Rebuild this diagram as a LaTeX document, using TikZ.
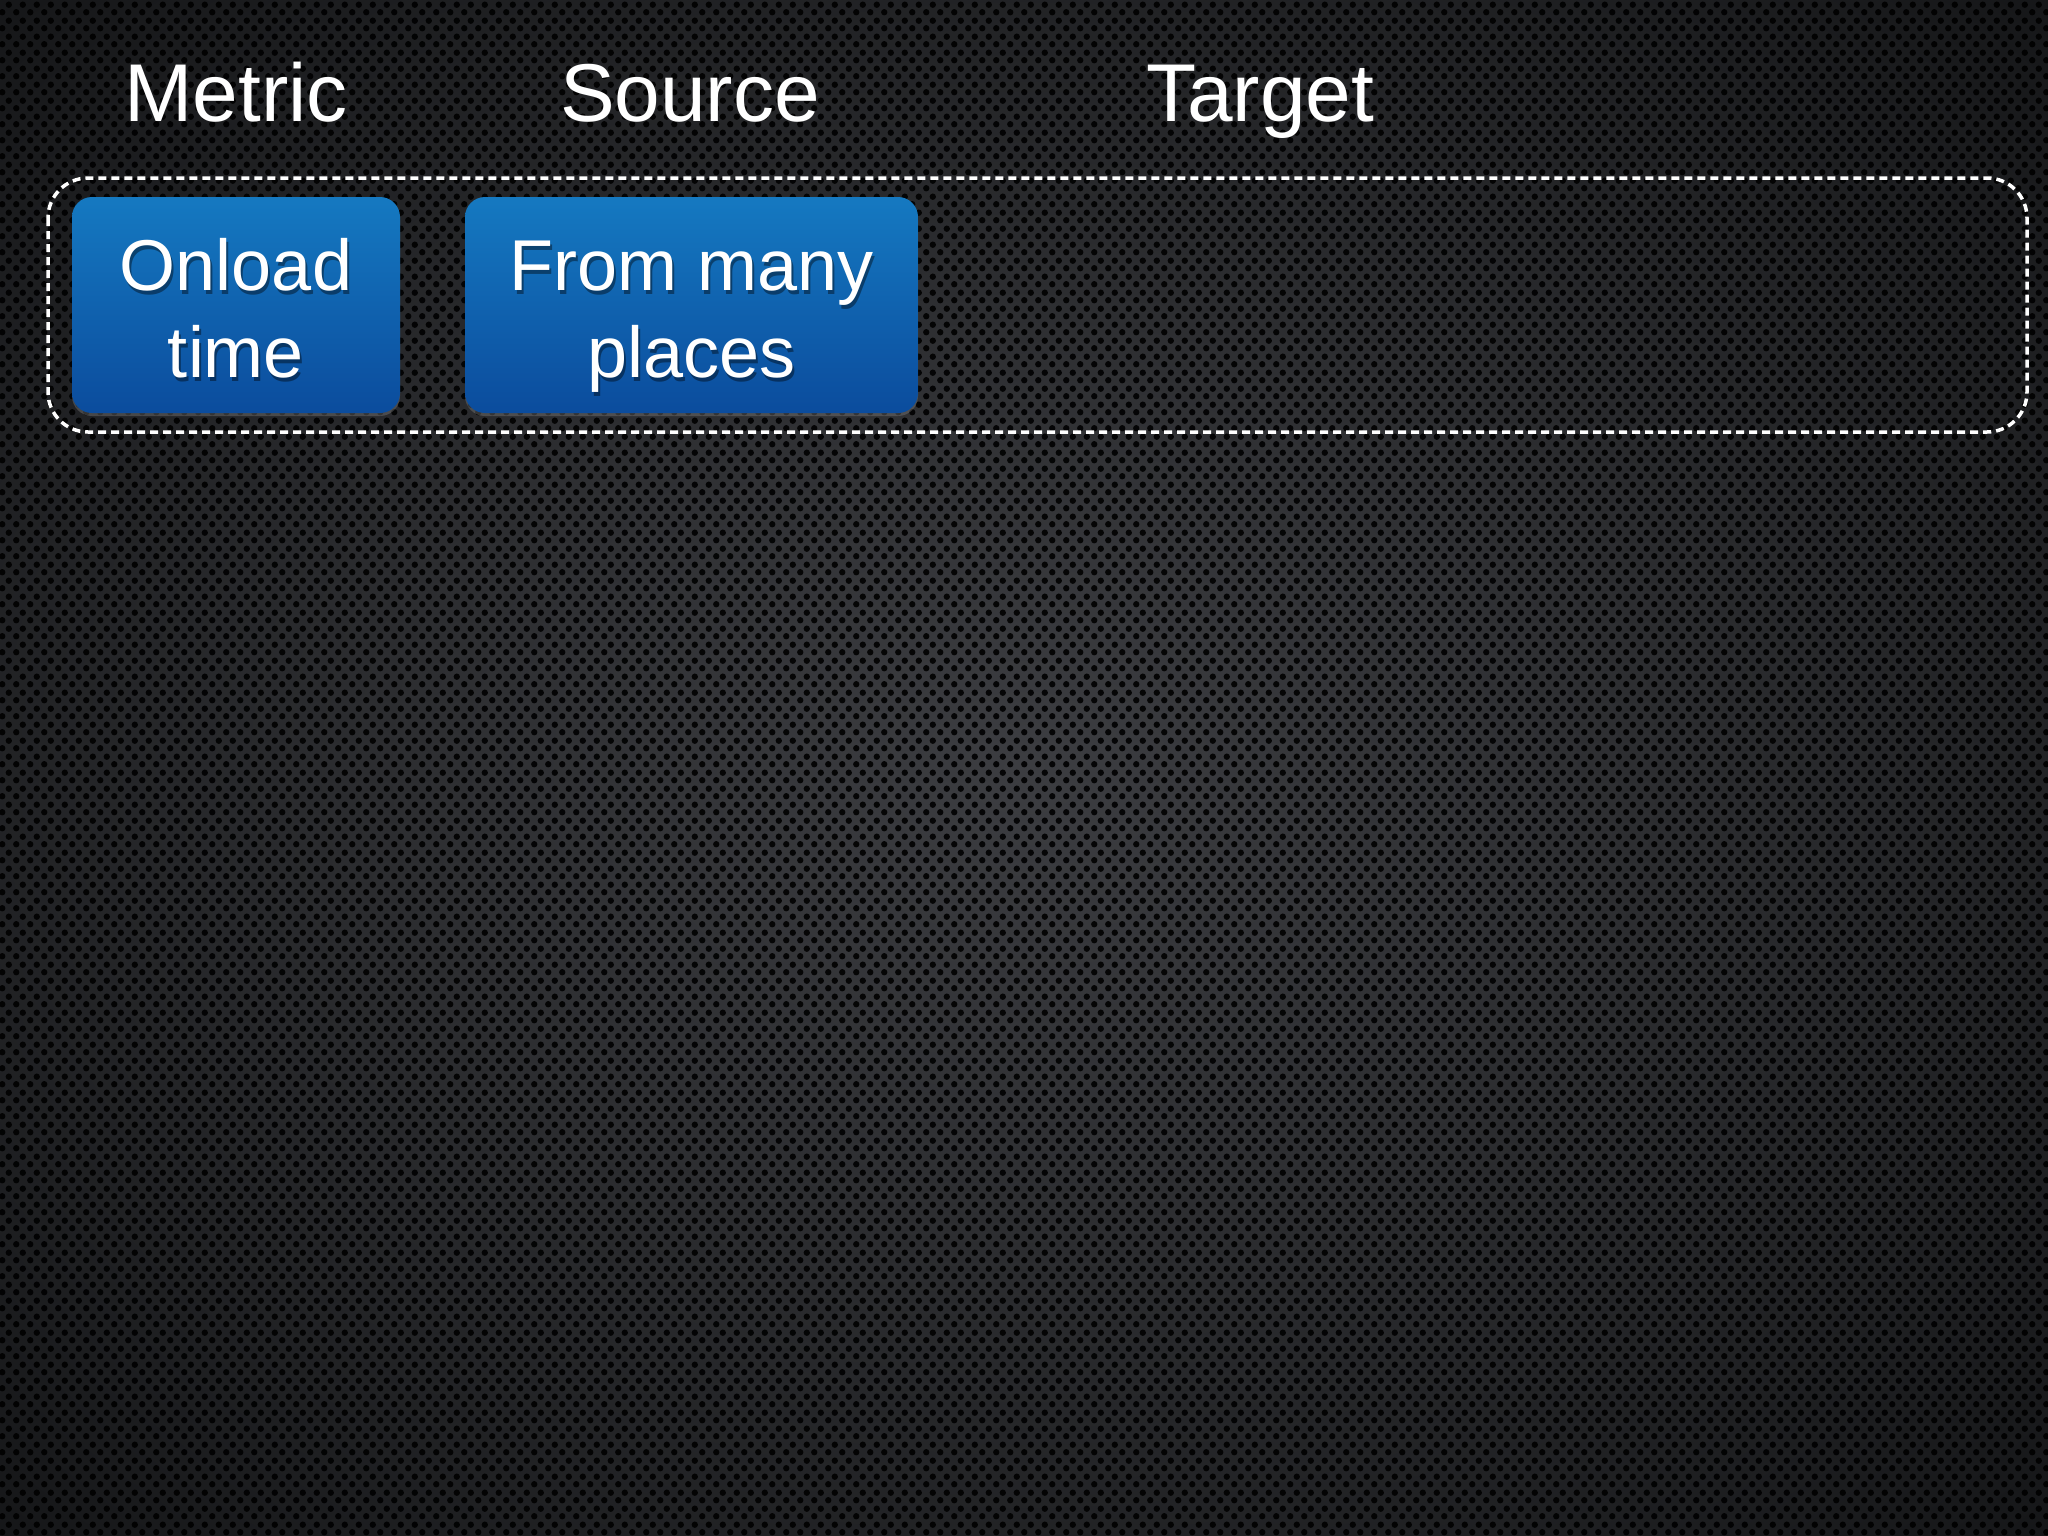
\documentclass[tikz,border=0pt]{standalone}
\usepackage{fontspec}
\setmainfont{Liberation Sans}
\usetikzlibrary{patterns.meta,shadows,calc}
\definecolor{bgca}{HTML}{3C3D41}
\definecolor{bgcb}{HTML}{2D2E31}
\definecolor{bgcc}{HTML}{17181A}
\definecolor{bgcd}{HTML}{070708}
\definecolor{bluetop}{HTML}{1579C1}
\definecolor{bluebot}{HTML}{0B4C9D}
\pgfdeclareradialshading{bgshade}{\pgfpoint{0bp}{0bp}}{color(0bp)=(bgca); color(15bp)=(bgcb); color(34bp)=(bgcc); color(50bp)=(bgcd)}
\tikzdeclarepattern{
  name=mesh,
  type=uncolored,
  bottom left={(0pt,0pt)},
  top right={(14pt,16pt)},
  tile size={(14pt,16pt)},
  code={
    \fill (3.5pt,4pt) circle[radius=3.4pt];
    \fill (10.5pt,12pt) circle[radius=3.4pt];
  }
}
\tikzset{
  header/.style={text=white, anchor=base, inner sep=0pt, font=\fontsize{82}{98}\selectfont},
  bluebox/.style={rounded corners=20pt, top color=bluetop, bottom color=bluebot, draw=none, inner sep=0pt,
    drop shadow={opacity=0.4, shadow xshift=0pt, shadow yshift=-3pt}},
  boxtext/.style={text=white, anchor=base, align=center, inner sep=0pt, font=\fontsize{72}{87}\selectfont},
  boxshadow/.style={boxtext, text=black, text opacity=0.4},
  group/.style={draw=white, line width=3.5pt, dash pattern=on 8pt off 5pt, rounded corners=40pt}
}
\begin{document}
\begin{tikzpicture}[x=1pt,y=-1pt]
\path[use as bounding box] (0,0) rectangle (2048,1536);
\shade[shading=bgshade] (0,0) rectangle (2048,1536);
\fill[pattern=mesh, pattern color=black, fill opacity=0.9] (0,0) rectangle (2048,1536);

% headers
\node[header] (metric) at (236,122) {Metric};
\node[header] (source) at (690,122) {Source};
\node[header] (target) at (1260,122) {Target};

% group frame
\draw[group] (48,178) rectangle (2027,432);

% boxes
\node[bluebox, minimum width=328pt, minimum height=216pt] (onload) at (236,305) {};
\node[bluebox, minimum width=453pt, minimum height=216pt] (many) at (691.5,305) {};

\node[boxshadow] (onloadsh) at ($(onload)+(2,76)$) {Onload\\time};
\node[boxtext] (onloadtx) at ($(onload)+(0,72)$) {Onload\\time};
\node[boxshadow] (manysh) at ($(many)+(2,76)$) {From many\\places};
\node[boxtext] (manytx) at ($(many)+(0,72)$) {From many\\places};
\end{tikzpicture}
\end{document}
